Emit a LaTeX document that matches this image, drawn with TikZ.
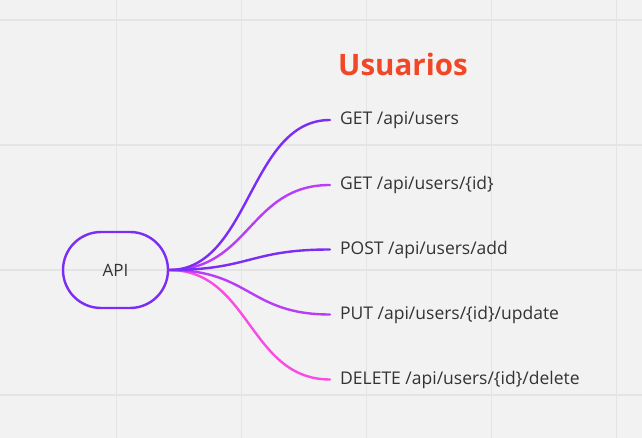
\documentclass[tikz,border=0pt]{standalone}
\usepackage{fontspec}
\setmainfont{Open Sans}
\definecolor{bg}{HTML}{F2F2F2}
\definecolor{gridc}{HTML}{E4E4E4}
\definecolor{cpurple}{HTML}{7B2DF6}
\definecolor{cviolet}{HTML}{B83DF7}
\definecolor{cpink}{HTML}{F84CE3}
\definecolor{ctitle}{HTML}{F24726}
\definecolor{ctext}{HTML}{333333}
\tikzset{
  apibox/.style={draw=cpurple, line width=2.4pt, rounded corners=38pt, minimum width=105pt, minimum height=76pt, inner sep=0pt, text=ctext, font=\fontsize{17}{20}\selectfont},
  lbl/.style={anchor=west, inner xsep=10pt, inner ysep=0pt, text=ctext, font=\fontsize{17.5}{20}\selectfont},
  branch/.style={line width=2.4pt, line cap=round},
}
\begin{document}
\begin{tikzpicture}[x=1pt,y=-1pt]
\fill[bg] (0,0) rectangle (642,438);
\useasboundingbox (0,0) rectangle (642,438);
\foreach \gx in {116.5,241.5,366.5,491.5,616.5} \draw[gridc, line width=1.2pt] (\gx,0) -- (\gx,438);
\foreach \gy in {20,145,270,395} \draw[gridc, line width=1.2pt] (0,\gy) -- (642,\gy);
\node[apibox] (api) at (115.5,270) {API};
\node[anchor=base west, inner sep=0pt, text=ctitle, font=\fontsize{29.5}{34}\selectfont\bfseries] (title) at (338,76) {Usuarios};
\node[lbl] (l1) at (330,120) {GET /api/users};
\node[lbl] (l2) at (330,185) {GET /api/users/\{id\}};
\node[lbl] (l3) at (330,249.5) {POST /api/users/add};
\node[lbl] (l4) at (330,314.5) {PUT /api/users/\{id\}/update};
\node[lbl] (l5) at (330,379.5) {DELETE /api/users/\{id\}/delete};
\draw[branch, cpink] (api.east) .. controls +(81,0) and +(-81,0) .. (l5.west);
\draw[branch, cviolet] (api.east) .. controls +(81,0) and +(-81,0) .. (l4.west);
\draw[branch, cviolet] (api.east) .. controls +(81,0) and +(-81,0) .. (l2.west);
\draw[branch, cpurple] (api.east) .. controls +(81,0) and +(-81,0) .. (l3.west);
\draw[branch, cpurple] (api.east) .. controls +(81,0) and +(-81,0) .. (l1.west);
\end{tikzpicture}
\end{document}
